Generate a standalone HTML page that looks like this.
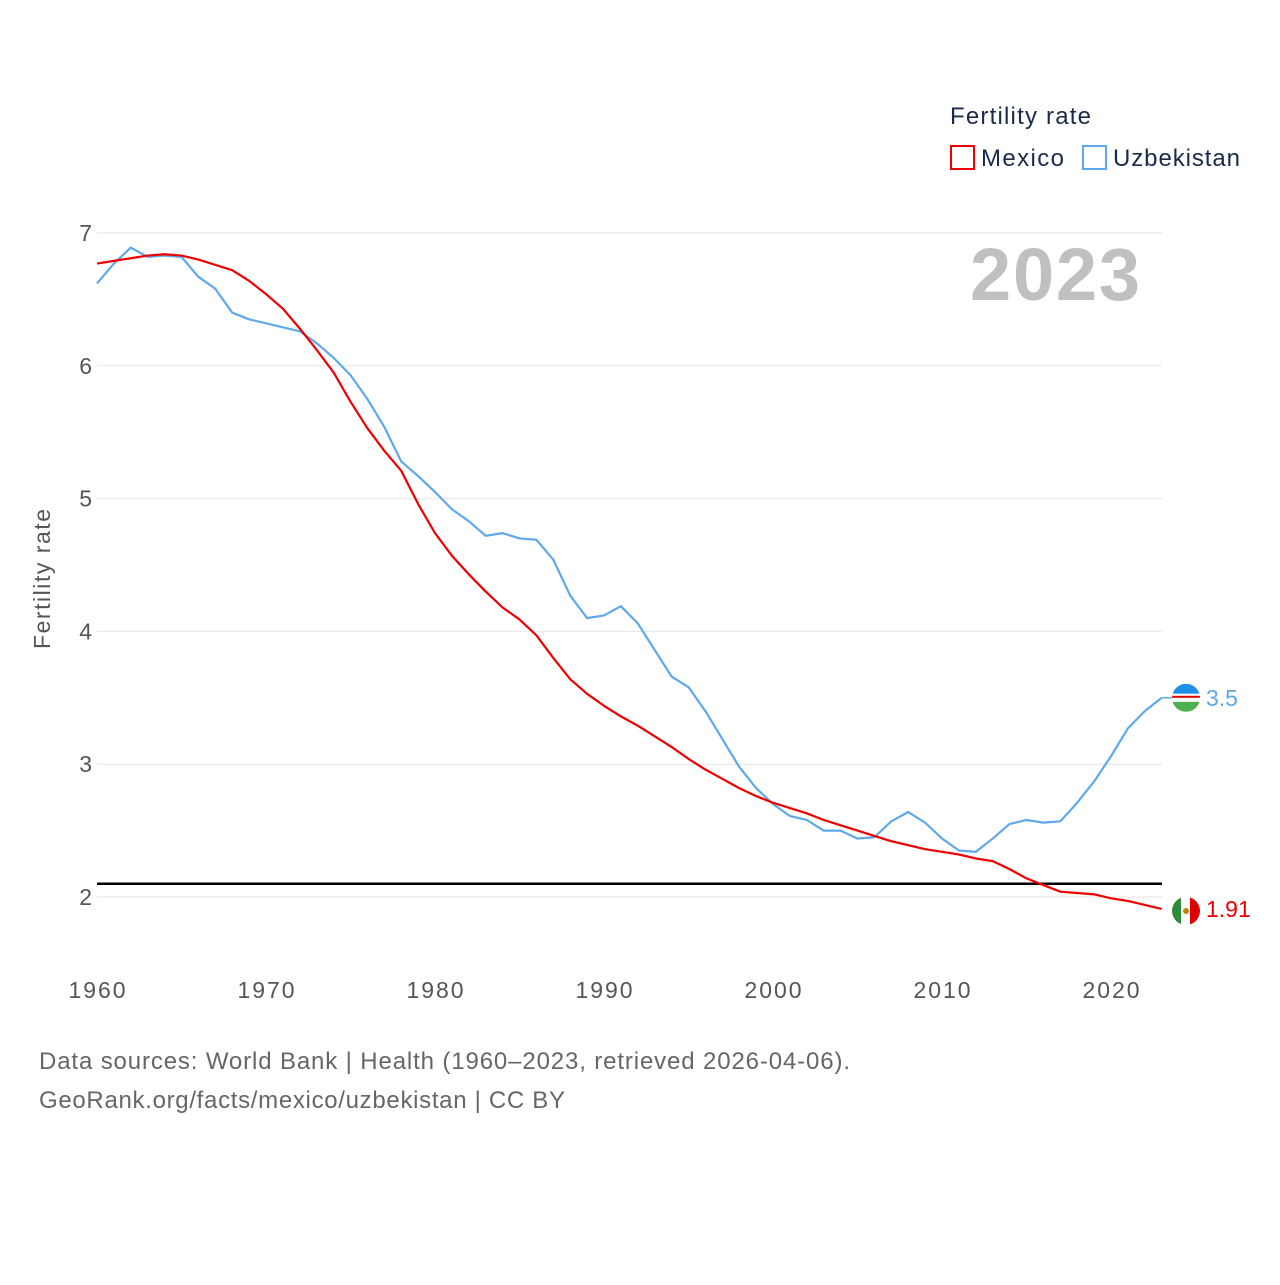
<!DOCTYPE html>
<html><head><meta charset="utf-8"><style>
body{margin:0;background:#fff;font-family:"Liberation Sans",sans-serif;}
svg text{font-family:"Liberation Sans",sans-serif;}
</style></head><body>
<svg id="chart" width="1280" height="1280" viewBox="0 0 1280 1280">
<g id="grid"></g>
<g id="yticks"></g>
<g id="xticks"></g>
<text x="1140" y="300" text-anchor="end" font-size="74" font-weight="bold" fill="#c0c0c0" textLength="170">2023</text>
<text transform="translate(50,579) rotate(-90)" text-anchor="middle" font-size="23" fill="#555" textLength="140">Fertility rate</text>
<line id="ref" stroke="#000" stroke-width="2.5"/>
<g id="series"></g>
<g>
<text x="950" y="124" font-size="24" fill="#1a2a4a" textLength="141">Fertility rate</text>
<g><rect x="951" y="146" width="23" height="23" fill="none" stroke="#e00" stroke-width="2"/><text x="981" y="166" font-size="24" fill="#1a2a4a" textLength="83">Mexico</text></g>
<g><rect x="1083" y="146" width="23" height="23" fill="none" stroke="#5fa8ec" stroke-width="2"/><text x="1113" y="166" font-size="24" fill="#1a2a4a" textLength="127">Uzbekistan</text></g>
</g>
<text x="39" y="1069" font-size="24" fill="#666" textLength="811">Data sources: World Bank | Health (1960–2023, retrieved 2026-04-06).</text>
<text x="39" y="1108" font-size="24" fill="#666" textLength="526">GeoRank.org/facts/mexico/uzbekistan | CC BY</text>
</svg>
<script>
const years=[];for(let y=1960;y<=2023;y++)years.push(y);
const mexico=[6.77,6.79,6.81,6.83,6.84,6.83,6.80,6.76,6.72,6.64,6.54,6.43,6.28,6.12,5.95,5.73,5.53,5.36,5.21,4.96,4.74,4.57,4.43,4.30,4.18,4.09,3.97,3.80,3.64,3.53,3.44,3.36,3.29,3.21,3.13,3.04,2.96,2.89,2.82,2.76,2.71,2.67,2.63,2.58,2.54,2.50,2.46,2.42,2.39,2.36,2.34,2.32,2.29,2.27,2.21,2.14,2.09,2.04,2.03,2.02,1.99,1.97,1.94,1.91];
const uzbekistan=[6.62,6.77,6.89,6.82,6.83,6.82,6.67,6.58,6.40,6.35,6.32,6.29,6.26,6.17,6.06,5.93,5.75,5.54,5.28,5.17,5.05,4.92,4.83,4.72,4.74,4.70,4.69,4.54,4.27,4.10,4.12,4.19,4.06,3.86,3.66,3.58,3.40,3.19,2.98,2.82,2.70,2.61,2.58,2.50,2.50,2.44,2.45,2.57,2.64,2.56,2.44,2.35,2.34,2.44,2.55,2.58,2.56,2.57,2.71,2.87,3.06,3.27,3.40,3.50];
const yTicks=[2,3,4,5,6,7];
const xTicks=[1960,1970,1980,1990,2000,2010,2020];
const refValue=2.1;
const X=v=>97+(v-1960)*16.9, Y=v=>897-(v-2)*132.8;
const NS="http://www.w3.org/2000/svg";
const mk=(t,a,p)=>{const e=document.createElementNS(NS,t);for(const k in a)e.setAttribute(k,a[k]);p.appendChild(e);return e;};
const grid=document.getElementById('grid'),yt=document.getElementById('yticks'),xt=document.getElementById('xticks'),ser=document.getElementById('series');
yTicks.forEach(v=>{
 const l=mk('line',{x1:97,x2:1162,y1:Y(v),y2:Y(v),stroke:'#e6e6e6','stroke-width':1},grid);
 
 
 const t=mk('text',{x:92,y:Y(v)+8,'text-anchor':'end','font-size':23,fill:'#555'},yt);t.textContent=v;
 
 
});
xTicks.forEach(v=>{
 const t=mk('text',{x:X(v),y:998,'text-anchor':'middle','font-size':23,fill:'#555',textLength:57},xt);t.textContent=v;
 
 
});
const ref=document.getElementById('ref');
ref.setAttribute('x1',97);ref.setAttribute('x2',1162);ref.setAttribute('y1',Y(refValue));ref.setAttribute('y2',Y(refValue));
function line(vals,col,name){
 const p=mk('polyline',{points:vals.map((v,i)=>X(years[i])+','+Y(v)).join(' '),fill:'none',stroke:col,'stroke-width':2.2,'stroke-linejoin':'round'},ser);
 
 
}
line(uzbekistan,'#5fa8ec','uzbekistan-line');
line(mexico,'#e00','mexico-line');
const lu=uzbekistan[uzbekistan.length-1],lm=mexico[mexico.length-1];
const gu=mk('g',{},ser);


const cy=Y(lu);
mk('line',{x1:1162,x2:1172,y1:cy,y2:cy,stroke:'#5fa8ec','stroke-width':1.5},gu);
const cpu=mk('clipPath',{id:'cu'},gu);mk('circle',{cx:1186,cy:cy,r:14},cpu);
const gc=mk('g',{'clip-path':'url(#cu)'},gu);
mk('rect',{x:1172,y:cy-14,width:28,height:10,fill:'#1e90e8'},gc);
mk('rect',{x:1172,y:cy-4,width:28,height:8,fill:'#fff'},gc);
mk('rect',{x:1172,y:cy-2,width:28,height:2,fill:'#d00'},gc);
mk('rect',{x:1172,y:cy+4,width:28,height:10,fill:'#4caf50'},gc);
const tu=mk('text',{x:1206,y:cy+8,'font-size':23,fill:'#5fa8ec'},ser);tu.textContent=lu;


const my=Y(lm)+2;
const gm=mk('g',{},ser);


const cp=mk('clipPath',{id:'cm'},gm);mk('circle',{cx:1186,cy:my,r:14},cp);
const gmc=mk('g',{'clip-path':'url(#cm)'},gm);
mk('rect',{x:1172,y:my-14,width:10,height:28,fill:'#2e8b3a'},gmc);
mk('rect',{x:1181,y:my-14,width:10,height:28,fill:'#fff'},gmc);
mk('rect',{x:1190,y:my-14,width:10,height:28,fill:'#d00'},gmc);
mk('circle',{cx:1186,cy:my,r:3,fill:'#b8860b'},gmc);
const tm=mk('text',{x:1206,y:Y(lm)+8,'font-size':23,fill:'#e00'},ser);tm.textContent=lm;


</script>
</body></html>
